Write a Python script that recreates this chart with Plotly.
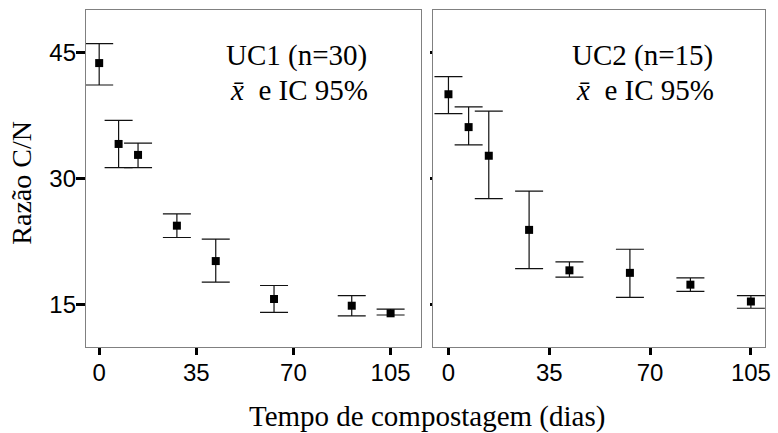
import plotly.graph_objects as go

# ---- data ----
days_uc1 = [0, 7, 14, 28, 42, 63, 91, 105]
mean_uc1 = [43.7, 34.1, 32.8, 24.4, 20.2, 15.7, 14.9, 14.0]
upper_uc1 = [46.0, 36.9, 34.2, 25.8, 22.8, 17.3, 16.1, 14.5]
lower_uc1 = [41.1, 31.3, 31.3, 23.0, 17.7, 14.1, 13.7, 13.8]

days_uc2 = [0, 7, 14, 28, 42, 63, 84, 105]
mean_uc2 = [40.0, 36.1, 32.7, 23.9, 19.1, 18.8, 17.4, 15.4]
upper_uc2 = [42.1, 38.5, 38.0, 28.5, 20.1, 21.6, 18.2, 16.1]
lower_uc2 = [37.7, 34.0, 27.6, 19.3, 18.3, 15.9, 16.6, 14.6]

x_ticks = [0, 35, 70, 105]
y_ticks = [15, 30, 45]

panel_labels = ["UC1 (n=30)", "UC2 (n=15)"]
stat_label = "<i>x\u0304</i>\u00a0\u00a0e IC 95%"
y_title = "Razão C/N"
x_title = "Tempo de compostagem (dias)"

SERIF = "Liberation Serif, Times New Roman, serif"
SANS = "Liberation Sans, Arial, sans-serif"

fig = go.Figure()


def add_series(days, mean, upper, lower, xa, ya):
    plus = [u - m for u, m in zip(upper, mean)]
    minus = [m - l for m, l in zip(mean, lower)]
    fig.add_trace(go.Scatter(
        x=days, y=mean, mode="markers", xaxis=xa, yaxis=ya,
        marker=dict(symbol="square", size=8, color="black"),
        error_y=dict(type="data", symmetric=False, array=plus, arrayminus=minus,
                     color="#111111", thickness=1.2, width=14),
        showlegend=False, hoverinfo="skip",
    ))


add_series(days_uc1, mean_uc1, upper_uc1, lower_uc1, "x", "y")
add_series(days_uc2, mean_uc2, upper_uc2, lower_uc2, "x2", "y2")

axis_common = dict(showgrid=False, zeroline=False, showline=True, mirror=True,
                   linecolor="#808080", linewidth=1.3, ticks="outside",
                   tickcolor="black", tickwidth=2.5,
                   tickfont=dict(family=SANS, size=24, color="black"))

fig.update_layout(
    width=778, height=433,
    margin=dict(l=86, r=7, t=10, b=86),
    paper_bgcolor="white", plot_bgcolor="white",
    xaxis=dict(domain=[0, 0.4934], range=[-4.75, 115.96], tickvals=x_ticks,
               ticklen=7, ticklabelstandoff=-3, anchor="y", **axis_common),
    xaxis2=dict(domain=[0.5109, 1], range=[-5.4, 109.9], tickvals=x_ticks,
                ticklen=7, ticklabelstandoff=-3, anchor="y2", **axis_common),
    yaxis=dict(range=[10, 50], tickvals=y_ticks, ticklen=9, ticklabelstandoff=-5,
               anchor="x", **axis_common),
    yaxis2=dict(range=[10, 50], tickvals=y_ticks, ticklen=2, anchor="x2",
                showticklabels=False, **axis_common),
    hovermode=False,
)

annotations = [
    dict(text=panel_labels[0], x=0.2029, y=0.8656),
    dict(text=stat_label, x=0.2087, y=0.7617),
    dict(text=panel_labels[1], x=0.7124, y=0.8656),
    dict(text=stat_label, x=0.7182, y=0.7617),
]
for a in annotations:
    fig.add_annotation(xref="paper", yref="paper", xanchor="left", yanchor="middle",
                       showarrow=False, font=dict(family=SERIF, size=29, color="black"),
                       **a)

fig.add_annotation(text=y_title, xref="paper", yref="paper", x=-0.0955, y=0.488,
                   xanchor="center", yanchor="middle", textangle=-90, showarrow=False,
                   font=dict(family=SERIF, size=28, color="black"))
fig.add_annotation(text=x_title, xref="paper", yref="paper", x=0.502, y=-0.205,
                   xanchor="center", yanchor="middle", showarrow=False,
                   font=dict(family=SERIF, size=29, color="black"))

fig.write_html("out.html", config={"displayModeBar": False})
